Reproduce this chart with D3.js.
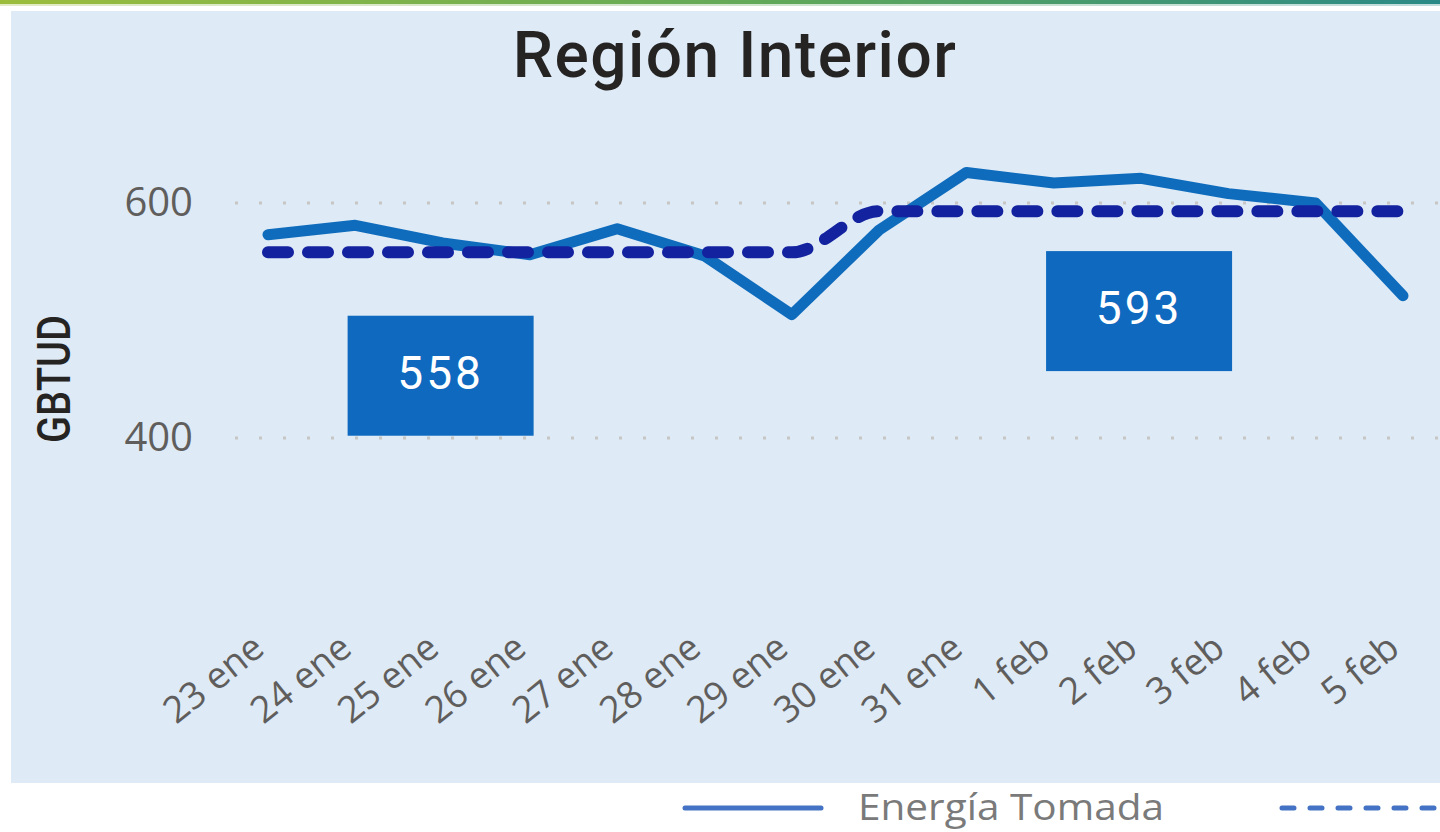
<!DOCTYPE html>
<html>
<head>
<meta charset="utf-8">
<script src="https://cdn.jsdelivr.net/npm/d3@7"></script>
<style>
  body { margin:0; background:#ffffff; }
  svg { display:block; }
</style>
</head>
<body>
<svg id="chart"></svg>
<script>
// data
var days = ["23 ene","24 ene","25 ene","26 ene","27 ene","28 ene","29 ene",
            "30 ene","31 ene","1 feb","2 feb","3 feb","4 feb","5 feb"];
var energia = [573,581,566,556,578,555,505,577,626,617,621,608,600,521];
var promedio = [558,558,558,558,558,558,558,593,593,593,593,593,593,593];
var yTicks = [400,600];
// weekly average boxes: label, category at centre, value at centre
var boxes = [
  {label:"558", day:"25 ene", value:453},
  {label:"593", day:"2 feb", value:508}
];

var screen = {width:1440,height:832};
var svg = d3.select("#chart")
  .attr("width",screen.width)
  .attr("height",screen.height);

// top gradient strip
var defs = svg.append("defs");
var grad = defs.append("linearGradient").attr("id","topbar");
grad.append("stop").attr("offset","0%").attr("stop-color","#9cbd3c");
grad.append("stop").attr("offset","55%").attr("stop-color","#5fa85a");
grad.append("stop").attr("offset","100%").attr("stop-color","#2b8a86");
svg.append("rect").attr("x",0).attr("y",0).attr("width",screen.width).attr("height",4)
   .attr("fill","url(#topbar)");
svg.append("rect").attr("x",0).attr("y",4).attr("width",screen.width).attr("height",2)
   .attr("fill","url(#topbar)").attr("opacity",0.3);

// panel
svg.append("rect").attr("x",11).attr("y",11).attr("width",screen.width-11).attr("height",772)
   .attr("fill","#deeaf6");

// title
svg.append("text")
   .text("Región Interior")
   .attr("x",735).attr("y",77)
   .attr("text-anchor","middle")
   .attr("font-family","Roboto, sans-serif")
   .attr("font-weight",500)
   .attr("font-size",64)
   .attr("letter-spacing",1.5)
   .attr("fill","#252423");

var xScale = d3.scalePoint().domain(days).range([268,1403]);
var yScale = d3.scaleLinear().domain([400,600]).range([438,203]);

// gridlines
svg.append("g").selectAll("line")
   .data(yTicks).enter().append("line")
   .attr("x1",235).attr("x2",screen.width)
   .attr("y1",function(d){return yScale(d)})
   .attr("y2",function(d){return yScale(d)})
   .attr("stroke","#c8c6c4")
   .attr("stroke-width",3)
   .attr("stroke-dasharray","3,21");

// y axis
var yAxis = d3.axisLeft(yScale).tickValues(yTicks).tickSize(0).tickPadding(0);
var yg = svg.append("g").attr("transform","translate(193,0)").call(yAxis);
yg.select(".domain").remove();
yg.selectAll("text")
  .attr("font-family","'Open Sans', sans-serif")
  .attr("font-size",40)
  .attr("fill","#605e5c");

// y label
svg.append("g")
   .attr("transform","translate(70,379)")
   .append("text")
   .text("GBTUD")
   .attr("transform","rotate(-90)")
   .attr("text-anchor","middle")
   .attr("font-family","Roboto, sans-serif")
   .attr("font-weight",500)
   .attr("font-size",46)
   .attr("textLength",128)
   .attr("lengthAdjust","spacingAndGlyphs")
   .attr("fill","#252423");

// x axis
var xAxis = d3.axisBottom(xScale).tickSize(0).tickPadding(0);
var xg = svg.append("g").attr("transform","translate(0,652)").call(xAxis);
xg.select(".domain").remove();
xg.selectAll("text")
  .attr("font-family","'Open Sans', sans-serif")
  .attr("font-size",37)
  .attr("fill","#605e5c")
  .attr("text-anchor","end")
  .attr("dy",0)
  .attr("transform","translate(-2,0) rotate(-39)");

// lines
var line = d3.line()
  .x(function(d,i){return xScale(days[i])})
  .y(function(d){return yScale(d)});

svg.append("path")
   .datum(energia)
   .attr("d",line)
   .attr("fill","none")
   .attr("stroke","#0f6cbd")
   .attr("stroke-width",11)
   .attr("stroke-linejoin","round")
   .attr("stroke-linecap","round");

var smooth = d3.line()
  .curve(d3.curveMonotoneX)
  .x(function(d,i){return xScale(days[i])})
  .y(function(d){return yScale(d)});

svg.append("path")
   .datum(promedio)
   .attr("d",smooth)
   .attr("fill","none")
   .attr("stroke","#13239f")
   .attr("stroke-width",12)
   .attr("stroke-linecap","round")
   .attr("stroke-dasharray","20,20");

// value boxes
var bw = 186, bh = 120;
var bx = svg.append("g").selectAll("g")
  .data(boxes).enter().append("g")
  .attr("transform",function(d){
      return "translate("+(xScale(d.day)-bw/2-2)+","+(yScale(d.value)-bh/2)+")";
  });
bx.append("rect").attr("width",bw).attr("height",bh).attr("fill","#0f6abf");
bx.append("text")
  .text(function(d){return d.label})
  .attr("x",bw/2).attr("y",bh/2+13)
  .attr("text-anchor","middle")
  .attr("font-family","Roboto, sans-serif")
  .attr("font-weight",400)
  .attr("font-size",46)
  .attr("letter-spacing",3)
  .attr("fill","#ffffff");

// legend
var legend = svg.append("g").attr("transform","translate(0,808)");
legend.append("line").attr("x1",685).attr("x2",821).attr("y1",0).attr("y2",0)
  .attr("stroke","#4472c4").attr("stroke-width",5).attr("stroke-linecap","round");
legend.append("text").text("Energía Tomada")
  .attr("x",858).attr("y",12)
  .attr("font-family","'Open Sans', sans-serif")
  .attr("font-size",37)
  .attr("textLength",306)
  .attr("lengthAdjust","spacingAndGlyphs")
  .attr("fill","#7a7a7a");
legend.append("line").attr("x1",1282).attr("x2",1450).attr("y1",0).attr("y2",0)
  .attr("stroke","#4472c4").attr("stroke-width",5).attr("stroke-linecap","round")
  .attr("stroke-dasharray","12,16");
</script>
</body>
</html>
